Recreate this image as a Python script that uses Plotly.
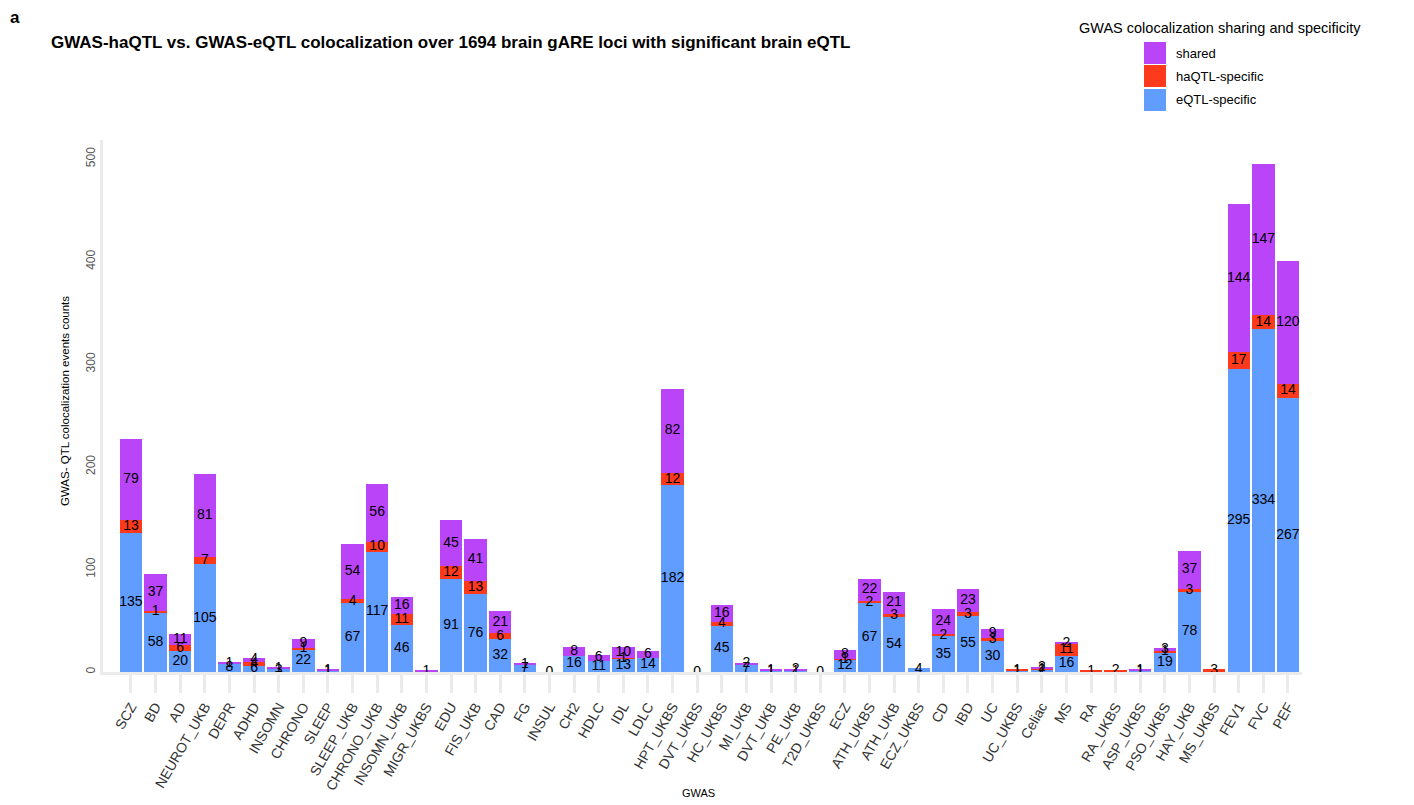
import plotly.graph_objects as go

# GWAS traits on the x axis
gwas = ["SCZ", "BD", "AD", "NEUROT_UKB", "DEPR", "ADHD", "INSOMN", "CHRONO", "SLEEP",
        "SLEEP_UKB", "CHRONO_UKB", "INSOMN_UKB", "MIGR_UKBS", "EDU", "FIS_UKB", "CAD",
        "FG", "INSUL", "CH2", "HDLC", "IDL", "LDLC", "HPT_UKBS", "DVT_UKBS", "HC_UKBS",
        "MI_UKB", "DVT_UKB", "PE_UKB", "T2D_UKBS", "ECZ", "ATH_UKBS", "ATH_UKB",
        "ECZ_UKBS", "CD", "IBD", "UC", "UC_UKBS", "Celiac", "MS", "RA", "RA_UKBS",
        "ASP_UKBS", "PSO_UKBS", "HAY_UKB", "MS_UKBS", "FEV1", "FVC", "PEF"]

# colocalization event counts per category
eqtl_specific = [135, 58, 20, 105, 8, 6, 3, 22, 1, 67, 117, 46, 0, 91, 76, 32, 7, 0, 16, 11,
                 13, 14, 182, 0, 45, 7, 1, 1, 0, 12, 67, 54, 4, 35, 55, 30, 1, 2, 16, 0,
                 0, 1, 19, 78, 0, 295, 334, 267]
haqtl_specific = [13, 1, 6, 7, 0, 4, 0, 1, 0, 4, 10, 11, 0, 12, 13, 6, 0, 0, 0, 0,
                  1, 0, 12, 0, 4, 0, 0, 0, 0, 1, 2, 3, 0, 2, 3, 3, 1, 1, 11, 1,
                  2, 0, 1, 3, 3, 17, 14, 14]
shared = [79, 37, 11, 81, 1, 4, 1, 9, 1, 54, 56, 16, 1, 45, 41, 21, 1, 0, 8, 6,
          10, 6, 82, 0, 16, 2, 1, 2, 0, 8, 22, 21, 0, 24, 23, 9, 0, 2, 2, 0,
          0, 1, 3, 37, 0, 144, 147, 120]

y_ticks = [0, 100, 200, 300, 400, 500]

series = [
    ("eQTL-specific", eqtl_specific, "#619CFF"),
    ("haQTL-specific", haqtl_specific, "#FF3A1C"),
    ("shared", shared, "#BA45F8"),
]

FONT = "Liberation Sans, Arial, sans-serif"
fig = go.Figure()

for name, vals, col in series:
    fig.add_trace(go.Bar(
        x=gwas, y=vals, name=name, marker=dict(color=col, line=dict(width=0)),
        showlegend=False, hoverinfo="x+y+name",
    ))

# value labels centred in each stacked segment
lab_x, lab_y, lab_t = [], [], []
for i, g in enumerate(gwas):
    base = 0
    total = eqtl_specific[i] + haqtl_specific[i] + shared[i]
    if total == 0:
        lab_x.append(g); lab_y.append(0); lab_t.append("0")
        continue
    for _, vals, _ in series:
        v = vals[i]
        if v > 0:
            lab_x.append(g); lab_y.append(base + v / 2); lab_t.append(str(v))
        base += v

fig.add_trace(go.Scatter(
    x=lab_x, y=lab_y, text=lab_t, mode="text", textposition="middle center",
    textfont=dict(family=FONT, size=14, color="#000000"),
    showlegend=False, hoverinfo="skip",
))

# panel geometry in pixels
W, H = 1414, 805
PL, PR, PT, PB = 103, 1302, 140, 672


def px(x):
    return (x - PL) / (PR - PL)


def py(y):
    return (PB - y) / (PB - PT)


# legend drawn as swatches + labels
legend_rows = [("shared", "#BA45F8", 42, 64), ("haQTL-specific", "#FF3A1C", 65, 87),
               ("eQTL-specific", "#619CFF", 89, 111)]
shapes = []
annotations = []
for lbl, col, y0, y1 in legend_rows:
    shapes.append(dict(type="rect", xref="paper", yref="paper",
                       x0=px(1144), x1=px(1166), y0=py(y1), y1=py(y0),
                       fillcolor=col, line=dict(width=0)))
    annotations.append(dict(xref="paper", yref="paper", x=px(1174), y=py((y0 + y1) / 2),
                            text=lbl, showarrow=False, xanchor="left", yanchor="middle",
                            font=dict(family=FONT, size=13, color="#000000")))
annotations.append(dict(xref="paper", yref="paper", x=px(1220), y=py(28),
                        text="GWAS colocalization sharing and specificity", showarrow=False,
                        xanchor="center", yanchor="middle",
                        font=dict(family=FONT, size=14.5, color="#000000")))
annotations.append(dict(xref="paper", yref="paper", x=px(49), y=py(42),
                        text="<b>GWAS-haQTL vs. GWAS-eQTL colocalization over 1694 brain gARE loci with significant brain eQTL</b>",
                        showarrow=False, xanchor="left", yanchor="middle",
                        font=dict(family=FONT, size=17, color="#000000")))
annotations.append(dict(xref="paper", yref="paper", x=px(8), y=py(18),
                        text="<b>a</b>", showarrow=False, xanchor="left", yanchor="middle",
                        font=dict(family=FONT, size=17, color="#000000")))
annotations.append(dict(xref="paper", yref="paper", x=px(698), y=py(793),
                        text="GWAS", showarrow=False, xanchor="center", yanchor="middle",
                        font=dict(family=FONT, size=11, color="#000000")))
annotations.append(dict(xref="paper", yref="paper", x=px(65), y=py(401),
                        text="GWAS- QTL colocalization events counts", showarrow=False,
                        textangle=-90, xanchor="center", yanchor="middle",
                        font=dict(family=FONT, size=11.5, color="#000000")))

fig.update_layout(
    width=W, height=H,
    margin=dict(l=PL, r=W - PR, t=PT, b=H - PB, pad=0),
    barmode="stack", bargap=0.09,
    plot_bgcolor="white", paper_bgcolor="white",
    shapes=shapes, annotations=annotations,
    xaxis=dict(
        type="category", range=[-1.137, 47.57],
        showgrid=False, zeroline=False,
        showline=True, linecolor="#EBEBEB", linewidth=3,
        ticks="outside", ticklen=18, tickwidth=3, tickcolor="#EBEBEB",
        tickangle=-60, tickfont=dict(family=FONT, size=14, color="#333333"),
    ),
    yaxis=dict(
        range=[0, 518.5], tickvals=y_ticks, showgrid=False, zeroline=False,
        showline=True, linecolor="#EBEBEB", linewidth=3,
        ticks="", tickangle=-90, tickfont=dict(family=FONT, size=12, color="#555555"),
    ),
)

fig.write_html("out.html")
